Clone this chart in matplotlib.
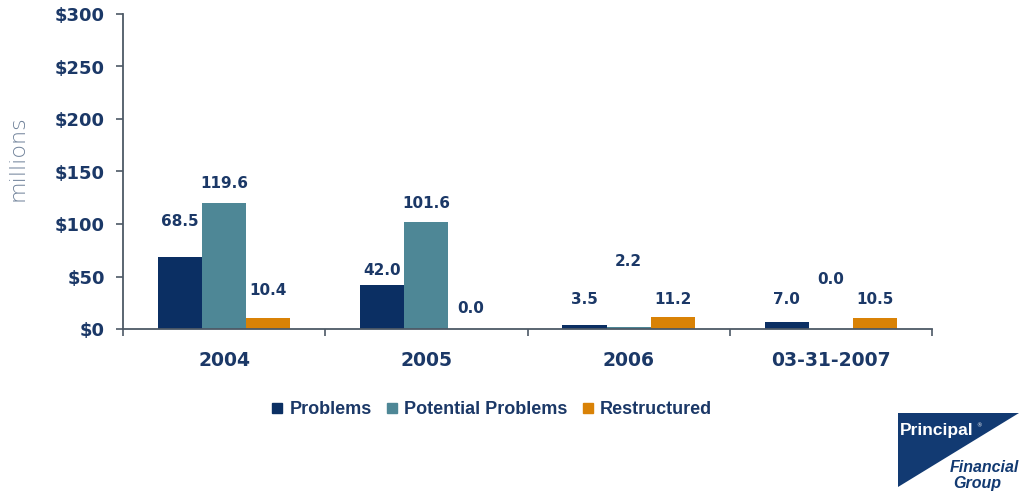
import matplotlib
matplotlib.use("Agg")
import matplotlib.pyplot as plt
from matplotlib.lines import Line2D
from matplotlib.patches import Polygon
import numpy as np

categories = ["2004", "2005", "2006", "03-31-2007"]
problems = [68.5, 42.0, 3.5, 7.0]
potential = [119.6, 101.6, 2.2, 0.0]
restructured = [10.4, 0.0, 11.2, 10.5]
series_names = ["Problems", "Potential Problems", "Restructured"]
y_ticks = [0, 50, 100, 150, 200, 250, 300]

# where each value label sits (data units), same order as the series
label_y = [
    [102, 56, 28, 28],
    [139, 120, 64, 47],
    [37, 20, 28, 28],
]

navy = "#0b2f63"
teal = "#4e8796"
orange = "#d98206"
text_col = "#1b3867"
axis_col = "#4d5966"

fig = plt.figure(figsize=(10.19, 4.94), dpi=100)
ax = fig.add_axes([123 / 1019, 1 - 329 / 494, (932 - 123) / 1019, (329 - 14) / 494])

x = np.arange(len(categories))
width = 0.218
series = [problems, potential, restructured]
colors = [navy, teal, orange]
for k, (vals, col) in enumerate(zip(series, colors)):
    pos = x + (k - 1) * width
    ax.bar(pos, vals, width, color=col, label=series_names[k], zorder=2)
    for xi, v, ly in zip(pos, vals, label_y[k]):
        ax.text(xi, ly, "{:.1f}".format(v), ha="center", va="center",
                fontsize=11, fontweight="bold", color=text_col,
                family="DejaVu Sans")

ax.set_xlim(-0.5, len(categories) - 0.5)
ax.set_ylim(0, 300)
ax.set_yticks(y_ticks)
ax.set_yticklabels(["${}".format(t) for t in y_ticks])
ax.set_xticks(x)
ax.set_xticklabels(categories)
ax.set_xticks(np.arange(len(categories) + 1) - 0.5, minor=True)
ax.tick_params(axis="x", which="major", length=0, pad=16)
ax.tick_params(axis="x", which="minor", length=5, direction="out", color=axis_col, width=1.2)
ax.tick_params(axis="y", length=5, direction="out", color=axis_col, width=1.2, pad=8)
for lab in ax.get_xticklabels():
    lab.set_fontsize(13.5)
for lab in ax.get_yticklabels():
    lab.set_fontsize(13)
for lab in ax.get_xticklabels() + ax.get_yticklabels():
    lab.set_fontweight("bold")
    lab.set_color(text_col)
    lab.set_family("DejaVu Sans")

for side in ["top", "right"]:
    ax.spines[side].set_visible(False)
for side in ["left", "bottom"]:
    ax.spines[side].set_color(axis_col)
    ax.spines[side].set_linewidth(1.3)

fig.text(17 / 1019, 1 - 158 / 494, "millions", rotation=90, ha="center", va="center",
         fontsize=16, color="#6f8199", family="DejaVu Sans", fontweight="light")

handles = [Line2D([], [], marker="s", linestyle="none", markersize=7,
                  markerfacecolor=c, markeredgecolor=c) for c in colors]
leg = fig.legend(handles, series_names, loc="center", frameon=False, ncol=3,
                 bbox_to_anchor=(491 / 1019, 1 - 410 / 494), handlelength=0.8,
                 handletextpad=0.3, columnspacing=0.7,
                 prop={"family": "Liberation Sans", "weight": "bold", "size": 13})
for t in leg.get_texts():
    t.set_color(text_col)

# company mark in the lower right corner
tri = Polygon([(898 / 1019, 1 - 413 / 494), (1019 / 1019, 1 - 413 / 494),
               (898 / 1019, 1 - 487 / 494)], closed=True, transform=fig.transFigure,
              facecolor="#123a72", edgecolor="none")
fig.patches.append(tri)
fig.text(900 / 1019, 1 - 431 / 494, "Principal", color="white", fontsize=12.5,
         fontweight="bold", family="Liberation Sans", va="center", ha="left")
fig.text(976 / 1019, 1 - 426 / 494, "®", color="white", fontsize=4, va="center")
fig.text(1019 / 1019, 1 - 467 / 494, "Financial", color="#123a72", fontsize=11.5,
         fontweight="bold", style="italic", family="Liberation Sans",
         va="center", ha="right")
fig.text(953 / 1019, 1 - 483 / 494, "Group", color="#123a72", fontsize=11.5,
         fontweight="bold", style="italic", family="Liberation Sans",
         va="center", ha="left")

fig.savefig("out.png", dpi=100)
